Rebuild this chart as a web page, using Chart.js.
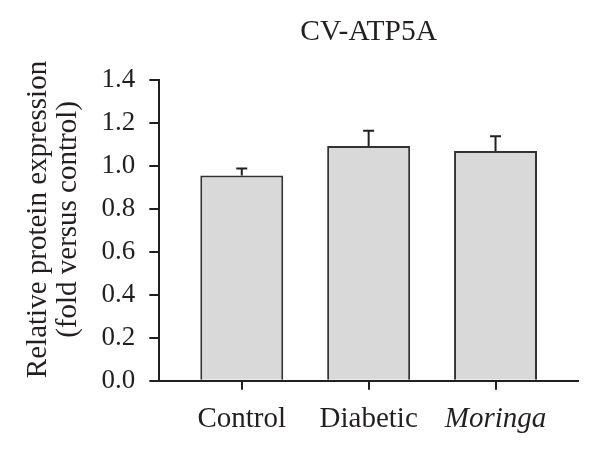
<!DOCTYPE html>
<html>
<head>
<meta charset="utf-8">
<script src="https://cdn.jsdelivr.net/npm/chart.js@4"></script>
<style>
  html, body { margin: 0; padding: 0; background: #fff; }
  #wrap { width: 600px; height: 455px; }
</style>
</head>
<body>
<div id="wrap"><canvas id="chart"></canvas></div>
<script>
// groups and values
const categories = ['Control', 'Diabetic', 'Moringa'];
const means = [0.955, 1.093, 1.069];
const errors = [0.033, 0.071, 0.069];
const yTicks = [0, 0.2, 0.4, 0.6, 0.8, 1.0, 1.2, 1.4];

const ink = '#231f20';
const serif = "'Liberation Serif', 'DejaVu Serif', serif";

// error bars drawn on top of the bars, through the chart's scales
const errorBars = {
  id: 'errorBars',
  afterDatasetsDraw(chart) {
    const ctx = chart.ctx;
    const yScale = chart.scales.y;
    const meta = chart.getDatasetMeta(0);
    ctx.save();
    ctx.strokeStyle = ink;
    ctx.lineWidth = 2;
    meta.data.forEach((bar, i) => {
      const yBar = yScale.getPixelForValue(means[i]);
      const yTop = yScale.getPixelForValue(means[i] + errors[i]);
      ctx.beginPath();
      ctx.moveTo(bar.x, yBar);
      ctx.lineTo(bar.x, yTop);
      ctx.moveTo(bar.x - 5.5, yTop);
      ctx.lineTo(bar.x + 5.5, yTop);
      ctx.stroke();
    });
    ctx.restore();
  }
};

new Chart(document.getElementById('chart'), {
  type: 'bar',
  data: {
    datasets: [{
      data: categories.map((c, i) => ({ x: i, y: means[i] })),
      backgroundColor: '#d9d9d9',
      borderColor: '#333333',
      borderWidth: 2,
      categoryPercentage: 1,
      barPercentage: 0.654
    }]
  },
  options: {
    responsive: true,
    maintainAspectRatio: false,
    animation: false,
    layout: { padding: { right: 22 } },
    plugins: { legend: { display: false }, tooltip: { enabled: false } },
    scales: {
      x: {
        type: 'linear',
        min: -0.65,
        max: 2.65,
        offset: false,
        afterFit: (s) => { s.height = 74.3; },
        grid: { offset: false, drawOnChartArea: false, drawTicks: true, tickLength: 9, color: ink, lineWidth: 2 },
        border: { color: ink, width: 2 },
        ticks: {
          stepSize: 1,
          includeBounds: false,
          padding: 12,
          color: ink,
          font: (c) => ({ family: serif, size: 29, style: c.tick && c.tick.value === 2 ? 'italic' : 'normal' }),
          callback: (v) => categories[v]
        }
      },
      top: {
        type: 'category',
        labels: categories,
        position: 'top',
        afterFit: (s) => { s.height = 80; },
        grid: { display: false },
        border: { display: false },
        ticks: { display: false },
        title: {
          display: true,
          text: 'CV-ATP5A',
          color: ink,
          font: { family: serif, size: 29.5 },
          padding: { top: 15, bottom: 0 }
        }
      },
      y: {
        min: 0,
        max: 1.4,
        afterFit: (s) => { s.width = 159.3; },
        afterBuildTicks: (s) => { s.ticks = yTicks.map((v) => ({ value: v })); },
        grid: { drawOnChartArea: false, drawTicks: true, tickLength: 10, color: ink, lineWidth: 2 },
        border: { color: ink, width: 2 },
        ticks: {
          padding: 14,
          color: ink,
          font: { family: serif, size: 27 },
          callback: (v) => v.toFixed(1)
        },
        title: {
          display: true,
          text: ['   Relative protein expression', '   (fold versus control)'],
          color: ink,
          font: { family: serif, size: 29, lineHeight: 1.05 },
          padding: { top: 23, bottom: 0 }
        }
      }
    }
  },
  plugins: [errorBars]
});
</script>
</body>
</html>
